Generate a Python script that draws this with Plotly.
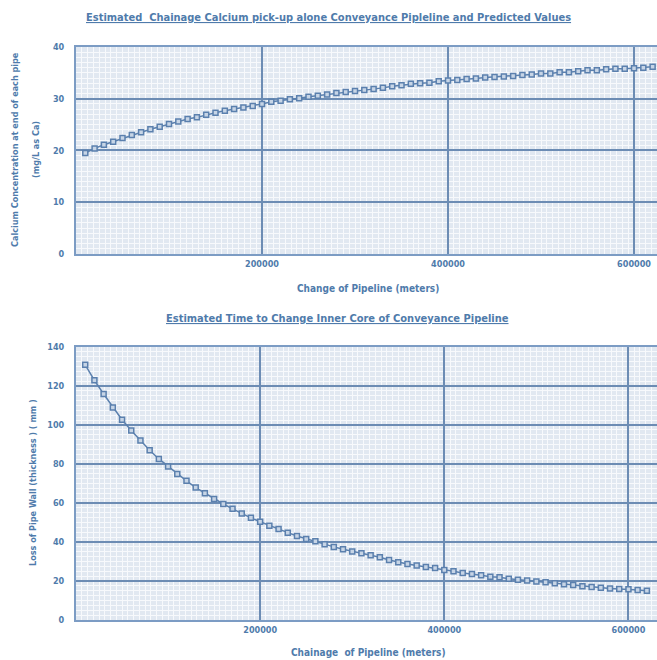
import plotly.graph_objects as go

chainage = [10000, 20000, 30000, 40000, 50000, 60000, 70000, 80000, 90000, 100000,
            110000, 120000, 130000, 140000, 150000, 160000, 170000, 180000, 190000, 200000,
            210000, 220000, 230000, 240000, 250000, 260000, 270000, 280000, 290000, 300000,
            310000, 320000, 330000, 340000, 350000, 360000, 370000, 380000, 390000, 400000,
            410000, 420000, 430000, 440000, 450000, 460000, 470000, 480000, 490000, 500000,
            510000, 520000, 530000, 540000, 550000, 560000, 570000, 580000, 590000, 600000,
            610000, 620000]

calcium = [19.5, 20.4, 21.1, 21.7, 22.4, 23.0, 23.5, 24.1, 24.6, 25.1,
           25.6, 26.1, 26.4, 26.9, 27.3, 27.7, 28.0, 28.3, 28.6, 29.0,
           29.4, 29.6, 29.9, 30.1, 30.4, 30.6, 30.8, 31.1, 31.3, 31.5,
           31.7, 31.9, 32.1, 32.4, 32.6, 32.9, 33.0, 33.1, 33.4, 33.5,
           33.6, 33.8, 33.9, 34.1, 34.2, 34.3, 34.4, 34.6, 34.7, 34.9,
           34.9, 35.1, 35.1, 35.3, 35.5, 35.5, 35.7, 35.8, 35.8, 35.9,
           36.0, 36.2]

wall_loss = [130.9, 122.9, 115.9, 109.0, 102.7, 97.2, 92.1, 87.1, 82.6, 78.7,
             74.9, 71.4, 67.9, 65.0, 62.1, 59.5, 57.0, 54.6, 52.4, 50.4,
             48.4, 46.7, 44.8, 43.1, 41.6, 40.4, 38.9, 37.5, 36.3, 35.1,
             34.2, 33.2, 32.2, 30.8, 29.6, 28.7, 27.9, 27.2, 26.7, 25.7,
             25.0, 24.1, 23.6, 22.9, 22.2, 21.9, 21.2, 20.7, 20.2, 19.7,
             19.4, 18.8, 18.3, 18.0, 17.3, 16.9, 16.6, 16.1, 15.9, 15.8,
             15.4, 15.0]

x_ticks = [200000, 400000, 600000]
x_tick_labels = ["200000", "400000", "600000"]
top_y_ticks = [0, 10, 20, 30, 40]
bottom_y_ticks = [0, 20, 40, 60, 80, 100, 120, 140]

FONT = "DejaVu Sans Condensed, Roboto, sans-serif"
TXT = "#4f7bab"
LINE = "#5b80ae"
MAJOR = "#6c8cb4"
BG = "#e1e8f1"

marker = dict(symbol="square", size=5, color="#c7d5e6", line=dict(color=LINE, width=1.5))

fig = go.Figure()
fig.add_trace(go.Scatter(x=chainage, y=calcium, mode="lines+markers",
                         line=dict(color=LINE, width=1.5), marker=marker,
                         xaxis="x", yaxis="y", showlegend=False))
fig.add_trace(go.Scatter(x=chainage, y=wall_loss, mode="lines+markers",
                         line=dict(color=LINE, width=1.5), marker=marker,
                         xaxis="x2", yaxis="y2", showlegend=False))

tickfont = dict(family=FONT, size=9, color=TXT, weight="bold")

def xax(rng, anchor):
    return dict(domain=[0, 1], anchor=anchor, range=rng, automargin=False,
                tickmode="array", tickvals=x_ticks, ticktext=x_tick_labels,
                tickfont=tickfont, showgrid=True, gridcolor=MAJOR, gridwidth=1.5,
                showline=True, linecolor="#7c9cc4", linewidth=2, mirror=True,
                ticks="", zeroline=False,
                minor=dict(tickmode="linear", tick0=0, dtick=6250, showgrid=True,
                           gridcolor="#f7f9fc", gridwidth=1))

def yax(rng, domain, anchor, vals, mdt):
    return dict(domain=domain, anchor=anchor, range=rng, automargin=False,
                tickmode="array", tickvals=vals, ticktext=[str(v) for v in vals],
                tickfont=tickfont, showgrid=True, gridcolor=MAJOR, gridwidth=1.5,
                showline=True, linecolor="#7c9cc4", linewidth=2, mirror=True,
                ticks="", zeroline=False, ticklabelstandoff=8,
                minor=dict(tickmode="linear", tick0=0, dtick=mdt, showgrid=True,
                           gridcolor="#f7f9fc", gridwidth=1))

fig.update_layout(
    width=657, height=660,
    margin=dict(l=76, r=0, t=0, b=0, autoexpand=False),
    paper_bgcolor="white", plot_bgcolor=BG,
    xaxis=xax([0, 624700], "y"),
    yaxis=yax([0, 40], [0.6152, 0.9288], "x", top_y_ticks, 1),
    xaxis2=xax([0, 631000], "y2"),
    yaxis2=yax([0, 140], [0.0606, 0.4742], "x2", bottom_y_ticks, 2.5),
)

def ann(text, x, y, size, angle=0):
    fig.add_annotation(text=text, x=x, y=y, xref="paper", yref="paper",
                       xanchor="center", yanchor="middle", showarrow=False,
                       textangle=angle,
                       font=dict(family=FONT, size=size, color=TXT, weight="bold"))

# convert pixel positions to paper coords
def px(xp):
    return (xp - 76) / (657 - 76)

def py(yp):
    return (660 - yp) / 660

ann("<u>Estimated  Chainage Calcium pick-up alone Conveyance Pipleline and Predicted Values</u>",
    px(328), py(18), 11)
ann("Change of Pipeline (meters)", px(368), py(288), 10)
ann("Calcium Concentration at end of each pipe", px(15), py(150), 9, -90)
ann("(mg/L as Ca)", px(36), py(150), 9, -90)
ann("<u>Estimated Time to Change Inner Core of Conveyance Pipeline</u>", px(337), py(319), 11)
ann("Chainage  of Pipeline (meters)", px(368), py(652), 10)
ann("Loss of Pipe Wall (thickness ) ( mm )", px(33), py(483), 9, -90)

fig.write_html("out.html", config={"displayModeBar": False},
               post_script="document.body.style.margin='0';")
